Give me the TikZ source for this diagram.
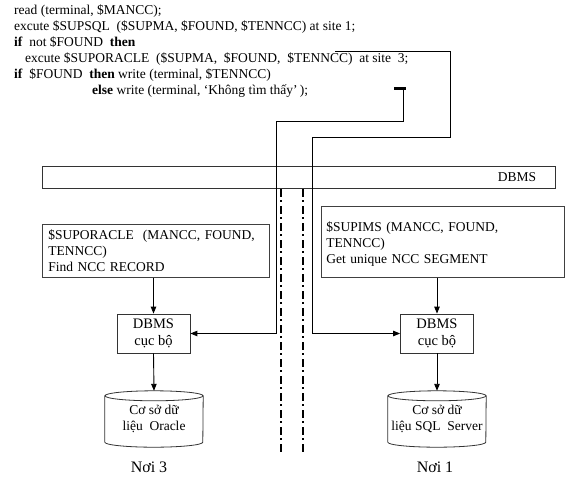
\documentclass[tikz,border=0pt]{standalone}
\usepackage{fontspec}
\setmainfont{Liberation Serif}
\usetikzlibrary{arrows.meta}
\begin{document}
\begin{tikzpicture}[x=1pt,y=-1pt,
  codeline/.style={anchor=base west,inner sep=0pt,font=\fontsize{13.5}{16}\selectfont},
  boxtext/.style={draw=black!75,line width=0.8pt,anchor=north west,align=left,inner sep=0pt,font=\fontsize{13.5}{16}\selectfont},
  dbmsbox/.style={draw=black!80,line width=0.8pt,align=center,inner sep=0pt,minimum width=73pt,minimum height=39pt,font=\fontsize{14.5}{17}\selectfont},
  cyltext/.style={inner sep=0pt,minimum width=98pt,minimum height=46pt,align=center,font=\fontsize{13.5}{16}\selectfont},
  cyl/.style={draw=black!80,line width=0.8pt},
  conn/.style={line width=0.8pt},
  arr/.style={line width=0.9pt,-{Triangle[length=7pt,width=5.5pt]}},
  sep/.style={line width=1.2pt,dash pattern=on 8pt off 3pt on 2pt off 4pt},
  sitelabel/.style={inner sep=0pt,font=\fontsize{16}{18}\selectfont}]
\useasboundingbox (0,0) rectangle (570,490);
% code lines
\node[codeline] (l1) at (14,14) {read (terminal, \$MANCC);};
\node[codeline] (l2) at (14,30) {excute \$SUPSQL\ \ (\$SUPMA, \$FOUND, \$TENNCC) at site 1;};
\node[codeline] (l3) at (14,46.5) {\textbf{if}\ \ not \$FOUND\ \ \textbf{then}};
\node[codeline] (l4) at (25,62.5) {excute \$SUPORACLE\ \ (\$SUPMA,\ \ \$FOUND,\ \ \$TENNCC)\ \ at site\ \ 3;};
\node[codeline] (l5) at (14,78.5) {\textbf{if}\ \ \$FOUND\ \ \textbf{then} write (terminal, \$TENNCC)};
\node[codeline] (l6) at (92,94.5) {\textbf{else} write (terminal, ‘Không\ tìm\ thấy’\,);};
% DBMS band
\node[draw=black!80,line width=0.8pt,minimum width=513pt,minimum height=22pt,inner sep=0pt] (band) at (298.5,177) {};
\node[inner sep=0pt,font=\fontsize{13.5}{16}\selectfont] (bandtxt) at (517,177) {DBMS};
% separators
\coordinate (s1t) at (281,189); \coordinate (s1b) at (281,454);
\coordinate (s2t) at (303,189); \coordinate (s2b) at (303,454);
\draw[sep] (s1t) -- (s1b);
\draw[sep] (s2t) -- (s2b);
% procedure boxes
\node[boxtext,minimum width=225pt,minimum height=53pt,text width=215pt,inner xsep=6pt,inner ysep=3pt] (boxL) at (42,224) {\$SUPORACLE\ \ (MANCC, FOUND,\\TENNCC)\\Find NCC RECORD};
\node[boxtext,minimum width=243pt,minimum height=71pt,text width=233pt,inner xsep=5pt,inner ysep=3pt] (boxR) at (321,206) {\\[-2pt]\$SUPIMS (MANCC, FOUND,\\TENNCC)\\Get unique NCC SEGMENT};
% local DBMS
\node[dbmsbox] (dL) at (153.5,333.5) {DBMS\\cục bộ};
\node[dbmsbox] (dR) at (437,333.5) {DBMS\\cục bộ};
% cylinders
\node[cyltext] (cL) at (154,419) {Cơ sở dữ\\liệu\ \ Oracle};
\node[cyltext] (cR) at (437,419) {Cơ sở dữ\\liệu SQL\ \ Server};
\foreach \c in {cL,cR}{
  \draw[cyl] (\c.north west) -- (\c.south west)
     arc[start angle=180,end angle=360,x radius=49pt,y radius=5pt] -- (\c.north east);
  \draw[cyl,fill=white] (\c.north) ellipse [x radius=49pt,y radius=5pt];
}
% site labels
\node[sitelabel] (nL) at (149,467) {Nơi 3};
\node[sitelabel] (nR) at (435,467) {Nơi 1};
% vertical arrows
\draw[arr] (boxL.south -| dL) -- (dL.north);
\draw[arr] (boxR.south -| dR) -- (dR.north);
\draw[arr] (dL.south) -- ([yshift=5pt]cL.north);
\draw[arr] (dR.south) -- ([yshift=5pt]cR.north);
% connectors from code
\coordinate (a0) at (335,51);
\coordinate (a1) at (450,51);
\coordinate (a2) at (450,137);
\coordinate (a3) at (312,137);
\draw[conn] (a0) -- (a1) -- (a2) -- (a3) -- (a3 |- dR.west);
\draw[arr] (a3 |- dR.west) -- (dR.west);
\coordinate (b0) at (394,88);
\coordinate (b0e) at (406,88);
\coordinate (b1) at (403,88);
\coordinate (b2) at (403,121);
\coordinate (b3) at (276,121);
\draw[line width=3pt] (b0) -- (b0e);
\draw[conn] (b1) -- (b2) -- (b3) -- (b3 |- dL.east);
\draw[arr] (b3 |- dL.east) -- (dL.east);
\end{tikzpicture}
\end{document}
